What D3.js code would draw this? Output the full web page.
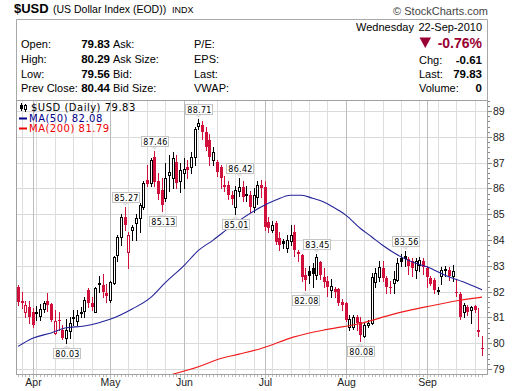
<!DOCTYPE html>
<html lang="en">
<head>
<meta charset="UTF-8">
<title>$USD</title>
<style>
  body { margin: 0; background: #fff; }
  svg { display: block; font-family: "Liberation Sans", Arial, sans-serif; }
</style>
</head>
<body>
<script src="https://cdn.jsdelivr.net/npm/d3@7"></script>
<script>
let width = 520
let height = 391

// trading days shown (weekdays, minus exchange holidays)
let startDate = "2010-03-26"
let endDate = "2010-09-22"
let holidays = ["2010-04-02", "2010-05-31"]

let opens = [82.17,81.65,81.22,81.40,81.20,81.18,81.06,81.33,81.65,81.52,80.40,80.92,80.50,80.20,80.48,81.00,80.85,81.20,81.25,82.07,
  81.55,81.20,82.30,82.25,81.95,81.67,82.32,83.42,84.13,84.90,83.55,84.40,84.68,84.84,85.30,86.33,86.22,87.23,86.30,85.94,
  85.63,86.52,86.40,87.03,86.30,86.60,86.82,86.84,87.23,88.43,88.46,88.20,87.88,87.10,87.03,86.84,86.10,86.13,85.74,85.30,
  85.90,86.07,85.80,85.74,85.30,85.68,86.13,86.07,84.70,84.40,84.66,84.08,83.97,83.70,83.95,84.32,83.55,83.42,82.64,82.80,
  82.90,82.64,83.16,82.58,82.42,82.08,82.10,82.10,81.60,81.55,80.64,80.64,81.00,80.83,80.28,80.70,80.77,82.39,82.58,82.90,
  82.52,82.20,82.35,82.45,83.30,83.40,83.25,83.20,82.85,83.05,83.20,82.90,82.52,82.45,82.05,82.60,82.85,82.85,82.60,82.00,
  81.93,81.20,81.40,81.30,81.45,80.50,79.83]
let highs = [82.25,82.00,81.65,81.65,81.35,81.45,81.53,81.65,81.95,81.55,81.30,81.20,80.70,80.95,81.00,81.30,81.30,81.40,81.80,82.15,
  81.80,82.20,82.60,82.70,82.30,82.40,83.40,84.20,85.00,85.27,84.30,84.60,85.00,85.45,86.30,86.90,87.20,87.46,86.60,86.40,
  87.00,87.30,87.40,87.30,87.00,87.20,87.10,87.40,88.40,88.71,88.60,88.40,88.10,87.60,87.10,86.90,86.50,86.30,85.90,86.10,
  86.42,86.30,86.10,85.90,86.00,86.30,86.33,86.30,84.90,84.75,84.75,84.30,84.05,84.20,84.60,84.60,83.60,83.45,82.90,83.00,
  83.10,83.45,83.20,82.90,82.60,82.50,82.20,82.15,81.70,81.60,81.10,81.10,81.10,81.00,80.80,80.90,82.72,82.90,83.20,83.20,
  82.60,82.40,82.80,83.30,83.45,83.56,83.35,83.30,83.30,83.35,83.30,83.00,82.60,82.55,82.20,82.95,83.00,82.95,83.05,82.45,
  82.00,81.55,81.50,81.45,81.50,81.35,80.29]
let lows = [81.50,81.35,81.00,80.80,80.65,80.90,80.90,81.20,81.25,80.85,80.35,80.50,80.15,80.03,80.20,80.70,80.70,81.00,81.00,81.40,
  81.30,81.20,82.00,81.80,81.60,81.60,82.30,83.20,83.80,84.40,82.90,84.00,84.00,84.30,85.20,86.10,86.10,86.10,85.60,85.13,
  85.50,85.90,86.00,86.00,85.87,86.00,86.40,86.60,86.90,88.30,87.90,87.50,86.90,86.90,86.50,86.00,85.90,85.60,85.40,85.01,
  85.70,85.50,85.50,85.10,85.10,85.40,85.68,84.40,84.30,84.30,83.85,83.60,83.70,83.55,83.80,83.40,83.20,82.40,82.08,82.35,
  82.20,82.50,82.50,82.20,81.85,81.80,81.80,81.50,81.30,80.85,80.50,80.55,80.50,80.08,80.25,80.65,80.75,82.20,82.40,82.40,
  81.95,81.95,81.95,82.40,83.00,83.00,82.70,82.60,82.55,82.80,82.70,82.20,82.25,81.95,81.90,82.30,82.60,82.45,82.40,81.85,
  80.95,81.00,81.10,80.80,81.20,80.30,79.56]
let closes = [81.60,81.58,81.48,81.02,80.72,81.22,81.33,81.57,81.50,80.90,80.88,80.85,80.20,80.50,80.77,81.02,81.10,81.22,81.67,81.57,
  81.40,82.15,82.35,82.00,81.85,82.38,83.36,84.13,84.90,84.58,84.20,84.50,84.85,85.35,86.20,86.17,87.10,86.26,85.80,85.36,
  86.40,86.65,87.20,86.20,86.70,86.75,86.72,87.23,88.29,88.53,88.20,87.62,87.23,87.42,86.65,86.40,86.15,85.74,85.60,85.94,
  86.06,85.68,85.70,85.30,85.74,86.13,86.00,84.52,84.45,84.60,83.94,83.80,83.85,84.00,84.20,83.62,83.45,82.58,82.45,82.60,
  82.70,83.36,82.64,82.39,82.20,82.22,82.00,81.55,81.48,80.90,80.95,81.00,80.80,80.32,80.70,80.77,82.58,82.72,82.97,82.52,
  82.20,82.15,82.50,83.10,83.15,83.25,83.00,82.92,83.20,83.22,82.95,82.58,82.30,82.06,82.08,82.85,82.88,82.60,82.80,81.95,
  81.03,81.48,81.20,81.40,81.30,80.44,79.83]

// moving averages, read at a few trading-day indices
let ma50Idx = [0,4,9,13,18,22,25,31,36,40,45,49,53,58,66,70,74,77,80,83,87,89,93,96,99,104,108,111,116,122,126]
let ma50Val = [79.88,80.2,80.4,80.6,80.67,80.8,80.93,81.33,81.77,82.35,83.0,83.6,84.0,84.55,85.28,85.55,85.74,85.74,85.62,85.48,85.16,84.97,84.45,84.13,83.8,83.35,83.1,82.97,82.64,82.32,82.08]
let ma200Idx = [42,49,55,60,66,75,84,93,102,111,120,126]
let ma200Val = [78.80,79.09,79.41,79.58,79.80,80.25,80.54,80.77,81.13,81.42,81.67,81.79]

// price flags: candle index and which end is marked
let flagIdx = [13,29,37,39,49,59,60,78,81,93,105]
let flagSide = ["L","H","H","L","H","L","H","L","H","L","H"]

let monthNames = ["Jan","Feb","Mar","Apr","May","Jun","Jul","Aug","Sep","Oct","Nov","Dec"]
let yTicks = [79,80,81,82,83,84,85,86,87,88,89]

let red = "#d0103a"
let pLeft = 16, pRight = 488, pTop = 100, pBottom = 374

let parse = d3.utcParse("%Y-%m-%d")
let fmt = d3.utcFormat("%Y-%m-%d")
let dates = d3.utcDay.range(parse(startDate), d3.utcDay.offset(parse(endDate), 1))
  .filter(d => d.getUTCDay() > 0 && d.getUTCDay() < 6 && holidays.indexOf(fmt(d)) < 0)
let idx = d3.range(dates.length)

let x = d3.scaleLinear().domain([0, dates.length - 1]).range([18, 482])
let y = d3.scaleLinear().domain([78.81, 89.43]).range([pBottom, pTop])

let svg = d3.select("body").append("svg")
  .attr("width", width)
  .attr("height", height)

svg.append("defs").append("clipPath").attr("id", "clip")
  .append("rect").attr("x", pLeft).attr("y", pTop).attr("width", pRight - pLeft).attr("height", pBottom - pTop)

// ---------- header ----------
function txt(px, py, s, size, opts) {
  opts = opts || {}
  return svg.append("text").attr("x", px).attr("y", py).text(s)
    .attr("font-size", size)
    .attr("font-weight", opts.bold ? "bold" : null)
    .attr("text-anchor", opts.anchor || "start")
    .attr("fill", opts.color || "#000")
}
txt(14, 13, "$USD", 13, {bold: true})
txt(53, 13, "(US Dollar Index (EOD))", 10.5)
txt(172, 13, "INDX", 9)
txt(488, 15, "\u00a9 StockCharts.com", 11, {anchor: "end", color: "#444"})

svg.append("path").attr("d", "M16.5," + pTop + "V19.5H487.5V" + pTop)
  .attr("fill", "none").attr("stroke", "#a8a8a8")

let rowsY = [48, 63, 78, 92]
let lab1 = ["Open:", "High:", "Low:", "Prev Close:"]
let val1 = ["79.83", "80.29", "79.56", "80.44"]
let lab2 = ["Ask:", "Ask Size:", "Bid:", "Bid Size:"]
let lab3 = ["P/E:", "EPS:", "Last:", "VWAP:"]
rowsY.forEach((ry, i) => {
  txt(21, ry, lab1[i], 11)
  txt(110, ry, val1[i], 11.5, {bold: true, anchor: "end"})
  txt(113, ry, lab2[i], 11)
  txt(194, ry, lab3[i], 11)
})
txt(356, 31, "Wednesday", 11)
txt(482, 31, "22-Sep-2010", 11, {anchor: "end"})
svg.append("path").attr("d", "M419.5,37.5H431L425.25,48Z").attr("fill", "#990033")
txt(482, 48, "-0.76%", 14, {bold: true, anchor: "end", color: "#990033"})
let lab4 = ["Chg:", "Last:", "Volume:"]
let val4 = ["-0.61", "79.83", "0"]
;[64, 78, 92].forEach((ry, i) => {
  txt(419, ry, lab4[i], 11)
  txt(482, ry, val4[i], 11.5, {bold: true, anchor: "end"})
})

// ---------- grid ----------
let weekStarts = idx.filter(i => i > 0 && dates[i].getUTCDay() < dates[i - 1].getUTCDay())
let monthStarts = idx.filter(i => i > 0 && dates[i].getUTCMonth() != dates[i - 1].getUTCMonth())

svg.append("rect").attr("x", pLeft).attr("y", pTop).attr("width", pRight - pLeft).attr("height", pBottom - pTop).attr("fill", "#fff")

svg.selectAll("line.hgrid").data(yTicks).enter().append("line")
  .attr("x1", pLeft).attr("x2", pRight)
  .attr("y1", d => Math.round(y(d)) + 0.5).attr("y2", d => Math.round(y(d)) + 0.5)
  .attr("stroke", "#dadada")
svg.selectAll("line.wgrid").data(weekStarts.filter(i => monthStarts.indexOf(i) < 0)).enter().append("line")
  .attr("x1", i => Math.round(x(i)) + 0.5).attr("x2", i => Math.round(x(i)) + 0.5)
  .attr("y1", pTop).attr("y2", pBottom)
  .attr("stroke", "#dedede")
svg.selectAll("line.mgrid").data(monthStarts).enter().append("line")
  .attr("x1", i => Math.round(x(i)) + 0.5).attr("x2", i => Math.round(x(i)) + 0.5)
  .attr("y1", pTop).attr("y2", pBottom)
  .attr("stroke", "#bcbcbc")

// ---------- candles ----------
let plot = svg.append("g").attr("clip-path", "url(#clip)")
function candleColor(i) {
  let prev = i > 0 ? closes[i - 1] : opens[i]
  return closes[i] < prev ? red : "#000"
}
plot.selectAll("line.wick").data(idx).enter().append("line")
  .attr("x1", i => Math.round(x(i)) + 0.5).attr("x2", i => Math.round(x(i)) + 0.5)
  .attr("y1", i => Math.round(y(highs[i]))).attr("y2", i => Math.round(y(lows[i])) + 1)
  .attr("stroke", candleColor)

plot.selectAll("rect.body").data(idx).enter().append("rect")
  .each(function(i) {
    let el = d3.select(this)
    let cx = Math.round(x(i))
    let t = Math.round(y(Math.max(opens[i], closes[i])))
    let b = Math.round(y(Math.min(opens[i], closes[i])))
    if (closes[i] > opens[i]) {
      el.attr("x", cx - 0.5).attr("y", t + 0.5).attr("width", 2).attr("height", Math.max(b - t, 1))
        .attr("fill", "#fff").attr("stroke", candleColor(i))
    } else {
      el.attr("x", cx - 1).attr("y", t).attr("width", 3).attr("height", Math.max(b - t, 1))
        .attr("fill", candleColor(i))
    }
  })

// ---------- moving averages ----------
let maLine = d3.line().x(d => x(d[0])).y(d => y(d[1])).curve(d3.curveMonotoneX)
plot.append("path").datum(d3.zip(ma50Idx, ma50Val)).attr("d", maLine)
  .attr("fill", "none").attr("stroke", "#23239a").attr("stroke-width", 1.1)
plot.append("path").datum(d3.zip(ma200Idx, ma200Val)).attr("d", maLine)
  .attr("fill", "none").attr("stroke", "#f01c1c").attr("stroke-width", 1.1)

// ---------- price flags ----------
let flags = svg.selectAll("g.flag").data(d3.zip(flagIdx, flagSide)).enter().append("g")
flags.each(function(f) {
  let g = d3.select(this)
  let i = f[0], isHigh = f[1] == "H"
  let v = isHigh ? highs[i] : lows[i]
  let cx = Math.round(x(i)) + 0.5
  let py = y(v)
  let bw = 27, bh = 10
  let by = isHigh ? Math.round(py) - 5 - bh : Math.round(py) + 5
  let tipY = isHigh ? Math.round(py) - 1 : Math.round(py) + 2
  let baseY = isHigh ? by + bh : by
  g.append("path").attr("d", "M" + (cx - 4) + "," + baseY + "L" + cx + "," + tipY + "L" + (cx + 4) + "," + baseY + "Z")
    .attr("fill", "#e4e4e4")
  g.append("rect").attr("x", Math.round(cx - bw / 2) + 0.5).attr("y", by + 0.5).attr("width", bw).attr("height", bh)
    .attr("fill", "#fff").attr("stroke", "#c4c4c4")
  g.append("text").attr("x", cx + 1).attr("y", by + 8.5).attr("text-anchor", "middle")
    .attr("font-family", "DejaVu Sans, Verdana, sans-serif").attr("font-size", 8).attr("letter-spacing", 0.3)
    .text(v.toFixed(2))
})

// ---------- legend ----------
let lg = svg.append("g")
lg.append("line").attr("x1", 21.5).attr("x2", 21.5).attr("y1", 103).attr("y2", 111).attr("stroke", "#000")
lg.append("rect").attr("x", 20).attr("y", 105).attr("width", 3).attr("height", 4).attr("fill", "#000")
lg.append("line").attr("x1", 25.5).attr("x2", 25.5).attr("y1", 104).attr("y2", 112).attr("stroke", "#000")
lg.append("rect").attr("x", 24.5).attr("y", 105.5).attr("width", 2).attr("height", 4).attr("fill", "#fff").attr("stroke", "#000")
let legFont = "DejaVu Sans, Verdana, sans-serif"
lg.append("text").attr("x", 31).attr("y", 111).attr("font-family", legFont).attr("font-size", 10)
  .attr("letter-spacing", 0.5).text("$USD (Daily) " + closes[closes.length - 1].toFixed(2))
lg.append("line").attr("x1", 19).attr("x2", 27).attr("y1", 118.5).attr("y2", 118.5).attr("stroke", "#00008b").attr("stroke-width", 2)
lg.append("text").attr("x", 29).attr("y", 122).attr("font-family", legFont).attr("font-size", 10)
  .attr("letter-spacing", 0.5).attr("fill", "#00008b").text("MA(50) " + ma50Val[ma50Val.length - 1].toFixed(2))
lg.append("line").attr("x1", 19).attr("x2", 27).attr("y1", 128.5).attr("y2", 128.5).attr("stroke", "#ee0000").attr("stroke-width", 2)
lg.append("text").attr("x", 29).attr("y", 132).attr("font-family", legFont).attr("font-size", 10)
  .attr("letter-spacing", 0.5).attr("fill", "#ee0000").text("MA(200) " + ma200Val[ma200Val.length - 1].toFixed(2))

// ---------- frame and axes ----------
svg.append("rect").attr("x", pLeft + 0.5).attr("y", pTop + 0.5).attr("width", pRight - pLeft - 1).attr("height", pBottom - pTop)
  .attr("fill", "none").attr("stroke", "#a0a0a0")

let minorY = d3.range(79, 89.41, 0.2)
svg.selectAll("line.ytick").data(minorY).enter().append("line")
  .attr("x1", pRight).attr("x2", d => pRight + (Math.abs(d - Math.round(d)) < 0.01 ? 4 : 2))
  .attr("y1", d => Math.round(y(d)) + 0.5).attr("y2", d => Math.round(y(d)) + 0.5)
  .attr("stroke", "#888")
svg.selectAll("text.ylab").data(yTicks).enter().append("text")
  .attr("x", 493).attr("y", d => y(d) + 4)
  .attr("font-size", 10.5).attr("fill", "#222")
  .text(d => d)

svg.selectAll("line.xtick").data(idx).enter().append("line")
  .attr("x1", i => Math.round(x(i)) + 0.5).attr("x2", i => Math.round(x(i)) + 0.5)
  .attr("y1", pBottom + 1).attr("y2", i => pBottom + (monthStarts.indexOf(i) >= 0 ? 5 : 3))
  .attr("stroke", "#bbb")
svg.selectAll("text.xlab").data(monthStarts).enter().append("text")
  .attr("x", i => Math.round(x(i)) + 0.5).attr("y", 386)
  .attr("text-anchor", "middle").attr("font-size", 10.5).attr("fill", "#222")
  .text(i => monthNames[dates[i].getUTCMonth()])
</script>
</body>
</html>
